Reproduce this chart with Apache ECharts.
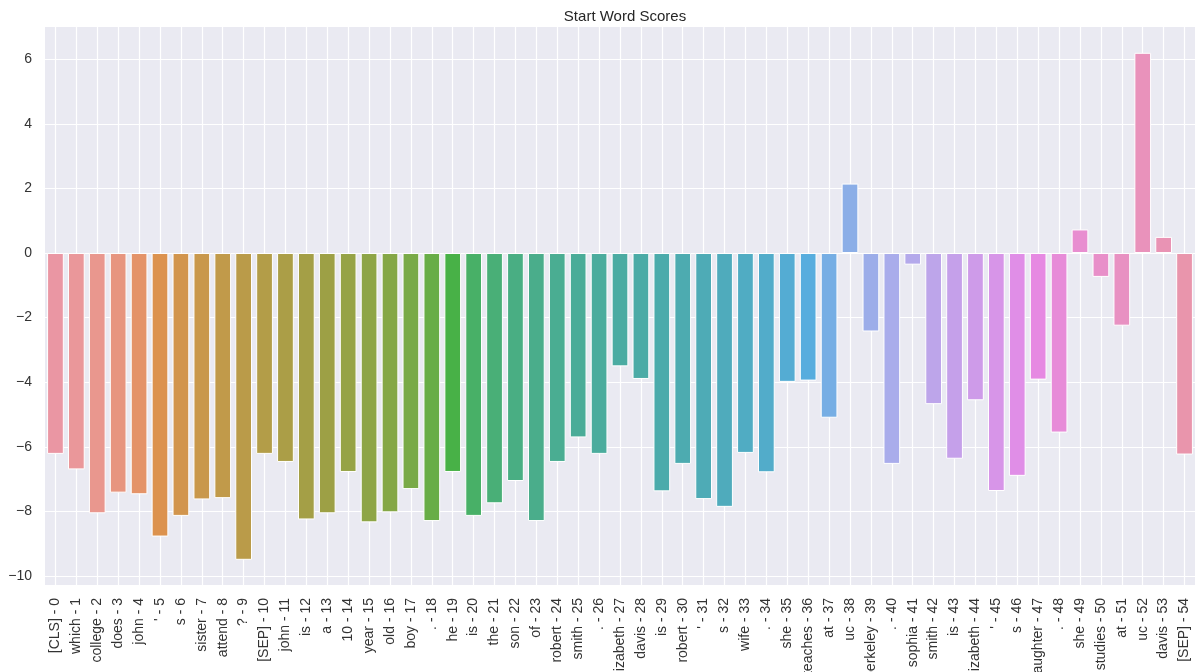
<!DOCTYPE html>
<html>
<head>
<meta charset="utf-8">
<script src="https://cdn.jsdelivr.net/npm/echarts@6/dist/echarts.min.js"></script>
<style>
html,body{margin:0;padding:0;background:#fff;}
#chart{width:1201px;height:672px;}
</style>
</head>
<body>
<div id="chart"></div>
<script>
const tokens = ["[CLS]","which","college","does","john","'","s","sister","attend","?",
  "[SEP]","john","is","a","10","year","old","boy",".","he",
  "is","the","son","of","robert","smith",".","elizabeth","davis","is",
  "robert","'","s","wife",".","she","teaches","at","uc","berkeley",
  ".","sophia","smith","is","elizabeth","'","s","daughter",".","she",
  "studies","at","uc","davis","[SEP]"];

const scores = [-6.22,-6.70,-8.06,-7.42,-7.47,-8.78,-8.14,-7.63,-7.59,-9.50,
  -6.22,-6.47,-8.25,-8.06,-6.78,-8.34,-8.03,-7.31,-8.30,-6.78,
  -8.14,-7.75,-7.06,-8.30,-6.47,-5.71,-6.22,-3.51,-3.90,-7.38,
  -6.53,-7.62,-7.86,-6.19,-6.79,-3.99,-3.95,-5.10,2.15,-2.43,
  -6.53,-0.36,-4.68,-6.37,-4.56,-7.37,-6.90,-3.92,-5.56,0.73,
  -0.74,-2.25,6.20,0.50,-6.24];

const categories = tokens.map((t, i) => t + ' - ' + i);
const titleText = 'Start Word Scores';

// seaborn-like husl palette (l=.7, s=.9, h=.01) desaturated by 0.75
const M = [[3.2406,-1.5372,-0.4986],[-0.9689,1.8758,0.0415],[0.0557,-0.2040,1.0570]];
function maxChroma(L, H) {
  const hr = H * Math.PI / 180, s = Math.sin(hr), c = Math.cos(hr);
  const sub1 = Math.pow(L + 16, 3) / 1560896;
  const sub2 = sub1 > 0.008856 ? sub1 : L / 903.3;
  let res = Infinity;
  for (const [m1, m2, m3] of M) {
    const top = (0.99915 * m1 + 1.05122 * m2 + 1.14460 * m3) * sub2;
    const rb = 0.86330 * m3 - 0.17266 * m2;
    const lb = 0.12949 * m3 - 0.38848 * m1;
    const bottom = (rb * s + lb * c) * sub2;
    for (const t of [0, 1]) {
      const C = L * (top - 1.05122 * t) / (bottom + 0.17266 * s * t);
      if (C > 0 && C < res) res = C;
    }
  }
  return res;
}
function huslToRgb(H, S, L) {
  const C = maxChroma(L, H) / 100 * S;
  const hr = H * Math.PI / 180;
  const U = Math.cos(hr) * C, V = Math.sin(hr) * C;
  const fy = (L + 16) / 116;
  const Y = Math.pow(fy, 3) > 0.008856 ? Math.pow(fy, 3) : (116 * fy - 16) / 903.3;
  const varU = U / (13 * L) + 0.19784, varV = V / (13 * L) + 0.46834;
  const X = -(9 * Y * varU) / ((varU - 4) * varV - varU * varV);
  const Z = (9 * Y - 15 * varV * Y - varV * X) / (3 * varV);
  return M.map(r => {
    const c = r[0] * X + r[1] * Y + r[2] * Z;
    const v = c <= 0.0031308 ? 12.92 * c : 1.055 * Math.pow(c, 1 / 2.4) - 0.055;
    return Math.min(1, Math.max(0, v));
  });
}
function desat(rgb, p) {
  const mx = Math.max(...rgb), mn = Math.min(...rgb);
  const l = (mx + mn) / 2;
  return rgb.map(c => l + (c - l) * p);
}
function toHex(rgb) {
  return '#' + rgb.map(c => Math.round(c * 255).toString(16).padStart(2, '0')).join('');
}
const n = categories.length;
const palette = [];
for (let i = 0; i < n; i++) {
  const h = ((i / n + 0.01) % 1) * 359;
  palette.push(toHex(desat(huslToRgb(h, 0.9 * 99, 0.7 * 99), 0.75)));
}

const fontFam = "'Liberation Sans', Arial, sans-serif";
const chart = echarts.init(document.getElementById('chart'), null, {renderer: 'canvas'});
chart.setOption({
  animation: false,
  backgroundColor: '#ffffff',
  title: {
    text: titleText,
    left: 620,
    textAlign: 'center',
    top: 4,
    textStyle: {fontFamily: fontFam, fontSize: 15, fontWeight: 'normal', color: '#262626'}
  },
  grid: {
    left: 45, right: 6, top: 26, bottom: 87,
    show: true, backgroundColor: '#EAEAF2', borderWidth: 0,
    containLabel: false,
    outerBoundsMode: 'none'
  },
  xAxis: {
    type: 'category',
    data: categories,
    boundaryGap: true,
    axisLine: {show: false},
    axisTick: {show: false, alignWithLabel: true},
    splitLine: {show: true, alignWithLabel: true, lineStyle: {color: '#ffffff', width: 1.2}},
    axisLabel: {
      interval: 0, rotate: 90, margin: 13,
      fontFamily: fontFam, fontSize: 14, color: '#333333'
    }
  },
  yAxis: {
    type: 'value',
    min: -10.28, max: 7.03,
    splitNumber: 8, minInterval: 2, maxInterval: 2,
    axisLine: {show: false},
    axisTick: {show: false},
    splitLine: {show: true, lineStyle: {color: '#ffffff', width: 1.2}},
    axisLabel: {
      margin: 13, showMinLabel: false, showMaxLabel: false,
      fontFamily: fontFam, fontSize: 14, color: '#333333',
      formatter: v => {
        if (Math.abs(v - Math.round(v)) > 1e-6) return '';
        return v < 0 ? '\u2212' + Math.abs(v) : String(v);
      }
    }
  },
  series: [{
    type: 'bar',
    data: scores,
    barWidth: '80%',
    itemStyle: {
      color: p => palette[p.dataIndex],
      borderColor: '#ffffff',
      borderWidth: 1
    }
  }]
});
</script>
</body>
</html>
